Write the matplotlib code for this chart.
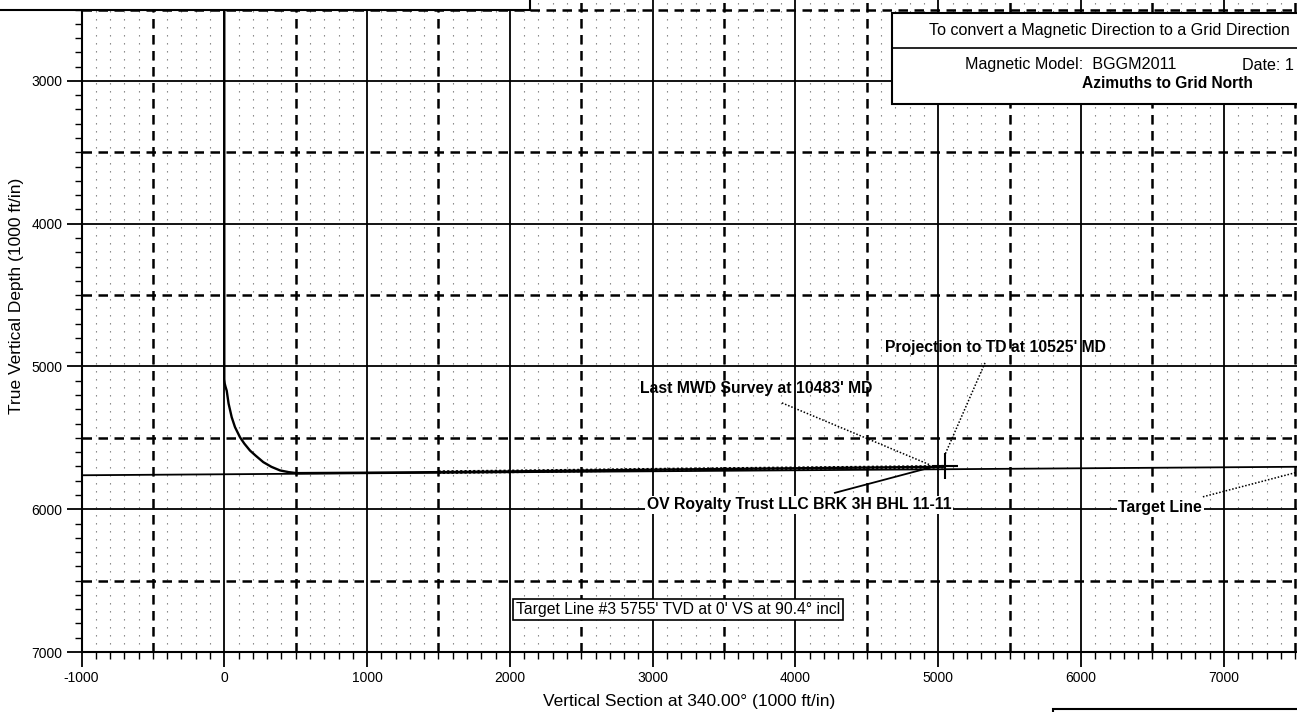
import matplotlib
matplotlib.use('Agg')
import matplotlib.pyplot as plt
from matplotlib.ticker import MultipleLocator
from matplotlib.patches import Rectangle
from matplotlib import font_manager
import numpy as np

plt.rcParams['font.family'] = ['Liberation Sans', 'DejaVu Sans']
plt.rcParams['axes.unicode_minus'] = False

# well path: vertical section (ft) vs true vertical depth (ft)
well_vs = [0, 0, 0, 3, 8, 17, 30, 52, 75, 110, 140, 180, 220, 273, 330, 390, 450, 507,
           1000, 1500, 2000, 2500, 3000, 3500, 4000, 4500, 5000, 5040]
well_tvd = [0, 4800, 5090, 5120, 5140, 5170, 5260, 5356, 5425, 5496, 5540, 5589, 5625,
            5670, 5703, 5728, 5740, 5747,
            5744, 5740, 5735, 5729, 5723, 5718, 5713, 5708, 5703, 5702]

# target line #3 (5755' TVD at 0' VS, 90.4 deg incl)
target_vs = [-1000, 7600]
target_tvd = [5762, 5702]

# BHL target
bhl_vs = 5050
bhl_tvd = 5700

labels = ["Projection to TD at 10525' MD",
          "Last MWD Survey at 10483' MD",
          "OV Royalty Trust LLC BRK 3H BHL 11-11",
          "Target Line"]
target_box_text = "Target Line #3 5755' TVD at 0' VS at 90.4\u00b0 incl"
xlabel = "Vertical Section at 340.00\u00b0 (1000 ft/in)"
ylabel = "True Vertical Depth (1000 ft/in)"

W, H = 1297, 712
fig = plt.figure(figsize=(W / 100, H / 100), dpi=100)
ax = fig.add_axes([81.5 / W, 60 / H, 1 - 81.5 / W, 652 / H])
ax.set_xlim(-1000, 7512)
ax.set_ylim(7000, 2433)

ax.xaxis.set_major_locator(MultipleLocator(1000))
ax.xaxis.set_minor_locator(MultipleLocator(100))
ax.yaxis.set_major_locator(MultipleLocator(1000))
ax.yaxis.set_minor_locator(MultipleLocator(100))
ax.tick_params(which='major', direction='out', length=10.5, width=1.3,
               labelsize=10, pad=3)
ax.tick_params(which='minor', direction='out', length=5, width=1.0)
for s in ['top', 'right']:
    ax.spines[s].set_visible(False)
for s in ['left', 'bottom']:
    ax.spines[s].set_linewidth(1.5)

# grids
ax.xaxis.grid(True, which='minor', linestyle=(0, (1.2, 6)), color='#777777',
              lw=0.8, zorder=0)
ax.grid(True, which='major', color='black', lw=1.3, zorder=0.6)
ax.set_axisbelow(True)
for v in np.arange(-500, 7600, 1000):
    ax.axvline(v, color='black', lw=1.8, dashes=(3.8, 2.6), zorder=0.7)
for v in np.arange(2500, 7000, 1000):
    ax.axhline(v, color='black', lw=1.8, dashes=(3.8, 2.6), zorder=0.7)

# target line and well path
ax.plot(target_vs, target_tvd, color='black', lw=1.3, zorder=3)
ax.plot(well_vs, well_tvd, color='black', lw=1.7, zorder=4,
        solid_joinstyle='round')
hv = [v for v in well_vs if v >= 1500]
ht = well_tvd[-len(hv):]
ax.plot(hv, ht, color='black', lw=2.6, linestyle=(0, (0.6, 0.6)), zorder=4)
ax.plot(bhl_vs, bhl_tvd, marker='+', color='black', markersize=19, mew=1.5,
        zorder=5)

# annotations
bold = dict(fontsize=11.3, fontweight='bold', ha='center', va='center', zorder=6)
wbox = dict(boxstyle='square,pad=0.1', fc='white', ec='none')
ax.text(5397, 4870, labels[0], **bold)
ax.plot([5327, 5046], [4975, 5619], color='black', lw=1.1, ls=(0, (1, 1.2)), zorder=5)
ax.text(3724, 5157, labels[1], **bold)
ax.plot([3905, 4941], [5255, 5689], color='black', lw=1.1, ls=(0, (1, 1.2)), zorder=5)
ax.text(4024, 5969, labels[2], bbox=wbox, **bold)
ax.plot([4276, 4962], [5885, 5703], color='black', lw=1.3, zorder=5)
ax.text(6553, 5990, labels[3], bbox=wbox, **bold)
ax.plot([6853, 7600], [5913, 5718], color='black', lw=1.1, ls=(0, (1, 1.2)), zorder=5)

names = {f.name for f in font_manager.fontManager.ttflist}
if 'Liberation Sans Narrow' in names:
    tb_font, tb_size = ['Liberation Sans Narrow', 'DejaVu Sans'], 14
else:
    tb_font, tb_size = ['Liberation Sans', 'DejaVu Sans'], 11.3
ax.text(2043, 6704, target_box_text, family=tb_font, fontsize=tb_size,
        ha='left', va='center', zorder=6,
        bbox=dict(boxstyle='square,pad=0.2', fc='white', ec='black', lw=1.2))

ax.set_xlabel(xlabel, fontsize=12.5, labelpad=7)
fig.text(17 / W, 1 - 296 / H, ylabel, fontsize=12.5, rotation=90,
         ha='center', va='center')

# header boxes (partially off the page)
def px_rect(x0, y0, x1, y1, lw=1.5):
    r = Rectangle((x0 / W, 1 - y1 / H), (x1 - x0) / W, (y1 - y0) / H,
                  transform=fig.transFigure, fc='white', ec='black', lw=lw,
                  zorder=10, clip_on=False)
    fig.patches.append(r)

px_rect(-10, -10, 530, 10)
px_rect(892, 13, 1310, 104)
fig.add_artist(plt.Line2D([892 / W, 1], [1 - 48 / H, 1 - 48 / H], color='black',
                          lw=1.2, transform=fig.transFigure, zorder=11))
px_rect(1053, 709, 1310, 730)

fig.text(1290 / W, 1 - 30 / H, "To convert a Magnetic Direction to a Grid Direction",
         fontsize=11.6, ha='right', va='center', zorder=12)
fig.text(965 / W, 1 - 65 / H, "Magnetic Model:  BGGM2011", fontsize=11.6,
         ha='left', va='center', zorder=12)
fig.text(1294 / W, 1 - 65 / H, "Date: 1", fontsize=11.6,
         ha='right', va='center', zorder=12)
fig.text(1167 / W, 1 - 83 / H, "Azimuths to Grid North", fontsize=11.2,
         fontweight='bold', ha='center', va='center', zorder=12)

fig.savefig('out.png', dpi=100)
